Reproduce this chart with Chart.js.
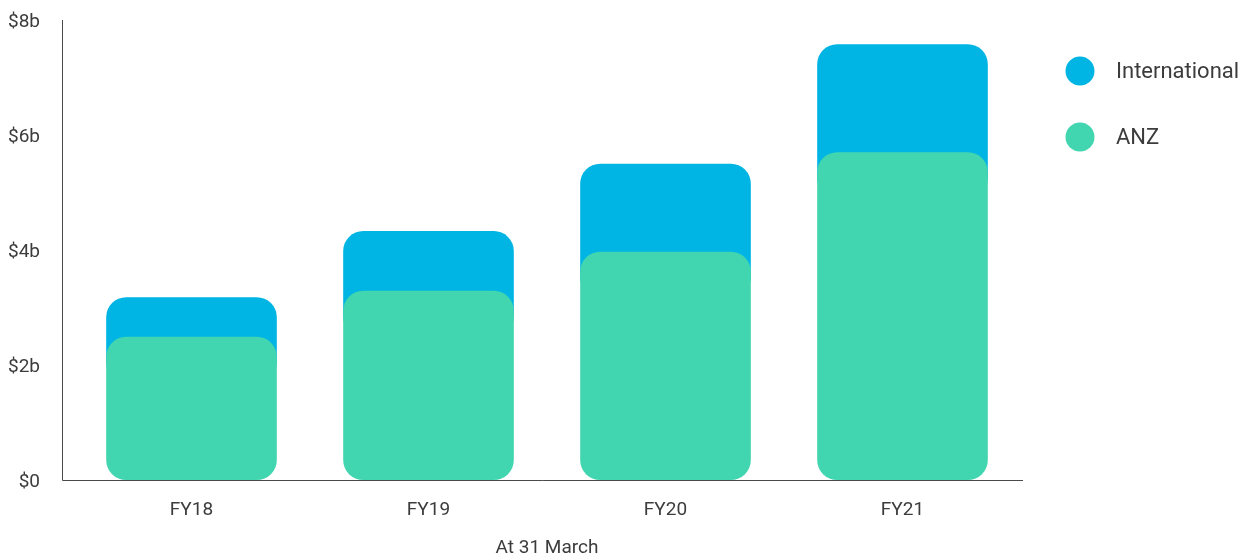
<!DOCTYPE html>
<html>
<head>
<meta charset="utf-8">
<script src="https://cdn.jsdelivr.net/npm/chart.js@4.4.1/dist/chart.umd.min.js"></script>
<style>
  html, body { margin: 0; padding: 0; background: #ffffff; }
  #wrap { width: 1249px; height: 554px; position: relative; }
</style>
</head>
<body>
<div id="wrap"><canvas id="chart" width="1249" height="554"></canvas></div>
<script>
// Subscription revenue by region ($ billions), at 31 March
const categories = ['FY18', 'FY19', 'FY20', 'FY21'];
const anzValues = [2.49, 3.29, 3.97, 5.70];
const internationalValues = [0.69, 1.04, 1.53, 1.88];
const yTickValues = [0, 2, 4, 6, 8];
const yTickLabels = ['$0', '$2b', '$4b', '$6b', '$8b'];
const seriesNames = ['International', 'ANZ'];
const seriesColors = ['#00b5e3', '#42d6b0'];
const xAxisTitle = 'At 31 March';

// The International block sits on top of ANZ and tucks behind its rounded top.
const tuck = 0.8;
const internationalBars = anzValues.map((a, i) => [a - tuck, a + internationalValues[i]]);

const FONT = "'Roboto', 'Inter', sans-serif";
const TEXT = '#3c3c3c';

// Axis lines drawn a little outside the plot area, plus the legend on the right
const decorations = {
  id: 'decorations',
  afterDraw(chart) {
    const { ctx } = chart;
    const y = chart.scales.y;
    ctx.save();
    ctx.strokeStyle = '#4a4a4a';
    ctx.lineWidth = 1;
    ctx.beginPath();
    ctx.moveTo(62.5, y.getPixelForValue(8));
    ctx.lineTo(62.5, y.getPixelForValue(0) + 0.5);
    ctx.lineTo(1023, y.getPixelForValue(0) + 0.5);
    ctx.stroke();

    ctx.font = '22px ' + FONT;
    ctx.textBaseline = 'middle';
    ctx.textAlign = 'left';
    seriesNames.forEach((name, i) => {
      const cy = 71 + i * 66;
      ctx.fillStyle = seriesColors[i];
      ctx.beginPath();
      ctx.arc(1080, cy, 14.5, 0, Math.PI * 2);
      ctx.fill();
      ctx.fillStyle = TEXT;
      ctx.fillText(name, 1116, cy + 1);
    });
    ctx.restore();
  }
};

new Chart(document.getElementById('chart'), {
  type: 'bar',
  data: {
    labels: categories,
    datasets: [
      {
        label: seriesNames[0],
        data: internationalBars,
        backgroundColor: seriesColors[0],
        borderRadius: 20,
        borderSkipped: false,
        order: 1
      },
      {
        label: seriesNames[1],
        data: anzValues,
        backgroundColor: seriesColors[1],
        borderRadius: 20,
        borderSkipped: false,
        order: 0
      }
    ]
  },
  options: {
    responsive: false,
    animation: false,
    events: [],
    layout: { padding: { top: 20, right: 228, left: 0, bottom: 0 } },
    datasets: {
      bar: { grouped: false, categoryPercentage: 0.72, barPercentage: 1 }
    },
    plugins: {
      legend: { display: false },
      tooltip: { enabled: false }
    },
    scales: {
      x: {
        grid: { display: false, drawTicks: false },
        border: { display: false },
        ticks: { color: TEXT, font: { family: FONT, size: 19 }, padding: 19 },
        title: {
          display: true,
          text: xAxisTitle,
          color: TEXT,
          font: { family: FONT, size: 19 },
          padding: { top: 0, bottom: -6 }
        },
        afterFit(scale) { scale.height = 74; scale.paddingLeft = 0; scale.paddingRight = 0; }
      },
      y: {
        min: 0,
        max: 8,
        grid: { display: false, drawTicks: false },
        border: { display: false },
        afterBuildTicks(scale) { scale.ticks = yTickValues.map(v => ({ value: v })); },
        ticks: {
          color: TEXT,
          font: { family: FONT, size: 19 },
          padding: 33,
          labelOffset: 2,
          callback: (v) => yTickLabels[yTickValues.indexOf(v)]
        },
        afterFit(scale) { scale.width = 73; scale.paddingTop = 0; scale.paddingBottom = 0; }
      }
    }
  },
  plugins: [decorations]
});
</script>
</body>
</html>
